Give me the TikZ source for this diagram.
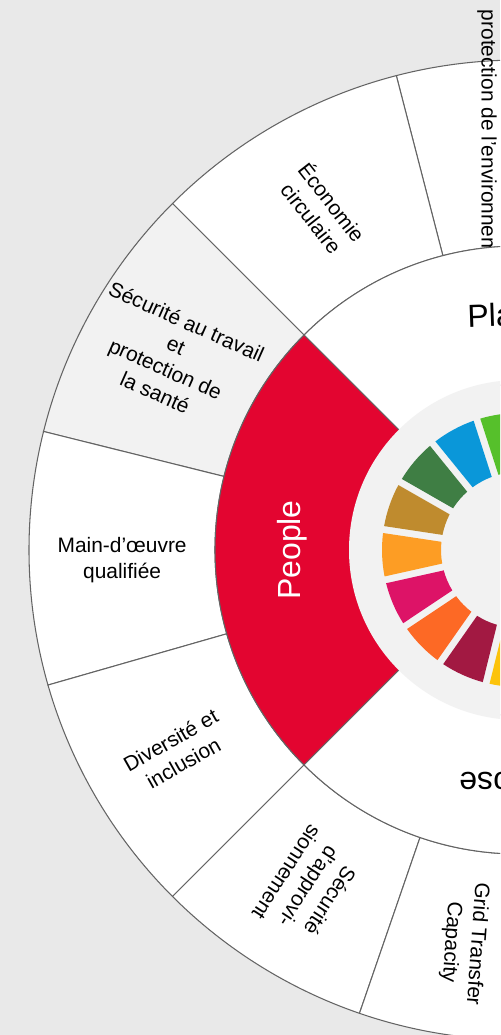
\documentclass[tikz,border=0pt]{standalone}
\usepackage{fontspec}
\setmainfont{Liberation Sans}
\usepackage{tikz}
\usetikzlibrary{positioning}
\definecolor{wheelbg}{RGB}{233,233,233}
\definecolor{wheelline}{RGB}{100,100,100}
\definecolor{softgray}{RGB}{242,242,242}
\definecolor{peoplered}{RGB}{227,5,48}
\definecolor{sdg1}{HTML}{E5243B}
\definecolor{sdg2}{HTML}{DDA63A}
\definecolor{sdg3}{HTML}{4C9F38}
\definecolor{sdg4}{HTML}{C5192D}
\definecolor{sdg5}{HTML}{FF3A21}
\definecolor{sdg6}{HTML}{26BDE2}
\definecolor{sdg7}{HTML}{FCC30B}
\definecolor{sdg8}{HTML}{A21942}
\definecolor{sdg9}{HTML}{FD6925}
\definecolor{sdg10}{HTML}{DD1367}
\definecolor{sdg11}{HTML}{FD9D24}
\definecolor{sdg12}{HTML}{BF8B2E}
\definecolor{sdg13}{HTML}{3F7E44}
\definecolor{sdg14}{HTML}{0A97D9}
\definecolor{sdg15}{HTML}{56C02B}
\definecolor{sdg16}{HTML}{00689D}
\definecolor{sdg17}{HTML}{19486A}

\begin{document}
\begin{tikzpicture}[x=0.2mm, y=0.2mm,
    seg/.style={draw=wheelline, line width=0.6pt},
    ringtext/.style={font=\fontsize{11.9}{14.7}\selectfont, align=center, inner sep=0pt},
    pillar/.style={font=\fontsize{18.2}{22}\selectfont, inner sep=0pt}]
  \useasboundingbox (-519,-485) rectangle (-19,550);
  \clip (-519,-485) rectangle (-19,550);
  \fill[wheelbg] (-519,-485) rectangle (-19,550);
  % Outer ring of topics
  \foreach \a/\b/\c in {75.5/104.5/white, 104.5/135/white, 135/166/softgray,
                        166/196/white, 196/225/white, 225/251/white,
                        251/273/white, 273/435.5/white} {
    \filldraw[seg, fill=\c] (\a:304) -- (\a:490)
      arc[start angle=\a, end angle=\b, radius=490] -- (\b:304)
      arc[start angle=\b, end angle=\a, radius=304] -- cycle;
  }
  \node[ringtext, rotate=-90] (envir) at (-32,403) {protection de l’environnement};
  \node[ringtext, rotate=-52] (econ) at (120:393) {Économie\\circulaire};
  \node[ringtext, rotate=-24] (safety) at (151:398)
        {Sécurité au travail\\et\\protection de\\la santé};
  \node[ringtext] (labour) at (181.5:397) {Main-d’œuvre\\qualifiée};
  \node[ringtext, rotate=29.5] (divers) at (210.5:397) {Diversité et\\inclusion};
  \node[ringtext, rotate=237] (supply) at (238:397) {Sécurité\\d’approvi-\\sionnement};
  \node[ringtext, rotate=266] (grid) at (262:397) {Grid Transfer\\Capacity};
  % Middle ring: planet, people, purpose
  \foreach \a/\b/\c in {45/135/white, 135/225/peoplered, 225/405/white} {
    \filldraw[seg, fill=\c] (\a:166) -- (\a:304)
      arc[start angle=\a, end angle=\b, radius=304] -- (\b:166)
      arc[start angle=\b, end angle=\a, radius=166] -- cycle;
  }
  \node[pillar, rotate=2] (planet) at (91.5:236) {Planet};
  \node[pillar, text=white, rotate=90] (people) at (180:227) {People};
  \node[pillar, rotate=180] (purpose) at (270:230) {Purpose};
  % SDG wheel
  \fill[softgray] (0,0) circle[radius=170];
  \foreach \k in {1,...,17} {
    \pgfmathsetmacro{\mid}{182-(\k-11)*360/17}
    \pgfmathsetmacro{\oa}{\mid-10.59+asin(3.5/137)}
    \pgfmathsetmacro{\ob}{\mid+10.59-asin(3.5/137)}
    \pgfmathsetmacro{\ia}{\mid-10.59+asin(3.5/78)}
    \pgfmathsetmacro{\ib}{\mid+10.59-asin(3.5/78)}
    \fill[sdg\k] (\oa:137) arc[start angle=\oa, end angle=\ob, radius=137]
      -- (\ib:78) arc[start angle=\ib, end angle=\ia, radius=78] -- cycle;
  }
\end{tikzpicture}
\end{document}
